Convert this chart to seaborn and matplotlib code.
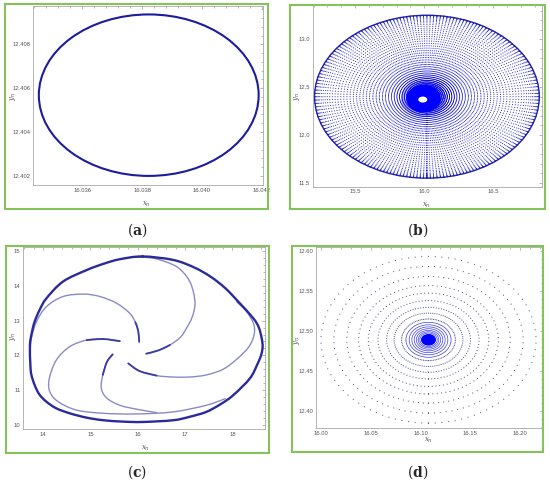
import numpy as np
import pandas as pd
import matplotlib
matplotlib.use("Agg")
import matplotlib.pyplot as plt
from matplotlib.patches import Ellipse, Rectangle, PathPatch
from matplotlib.path import Path
from matplotlib.ticker import MultipleLocator, AutoMinorLocator, FormatStrFormatter
import seaborn as sns

sns.set_style("white")
plt.rcParams["font.family"] = ["Liberation Sans", "DejaVu Sans"]
plt.rcParams["mathtext.fontset"] = "dejavuserif"
plt.rcParams["lines.scale_dashes"] = False

# ---- values ----
# (a) closed invariant curve
a_center = (16.03822, 12.40568)
a_size = (0.00735, 0.00737)

# (b) outward spiral: outer ellipse and ring scales (fraction of outer size)
b_center = (16.02, 12.40)
b_size = (1.625, 1.705)
b_rings = [1.0, 0.996, 0.991, 0.985, 0.977, 0.967, 0.955, 0.941, 0.925, 0.907,
           0.887, 0.865, 0.842, 0.818, 0.793, 0.767, 0.740, 0.712, 0.684, 0.655,
           0.626, 0.597, 0.568, 0.539, 0.510, 0.481, 0.452, 0.424, 0.396, 0.369,
           0.342, 0.316, 0.291, 0.267, 0.244, 0.222, 0.201, 0.181, 0.162, 0.145,
           0.129, 0.114, 0.100]
b_blob = (15.995, 12.38, 0.25, 0.29)
b_hole = (15.99, 12.37, 0.065, 0.063)

# (c) limit cycle and spiral arms
c_outer_x = [16.10, 16.75, 17.20, 17.55, 17.85, 18.12, 18.44, 18.56, 18.62, 18.64, 18.61, 18.53,
             18.37, 18.02, 17.75, 17.45, 17.10, 16.75, 16.10, 15.70, 15.27, 14.90, 14.56, 14.28,
             14.07, 13.92, 13.82, 13.75, 13.73, 13.72, 13.76, 13.82, 13.93, 14.07, 14.42, 14.92,
             15.30, 15.62]
c_outer_y = [14.84, 14.74, 14.52, 14.25, 13.93, 13.55, 13.07, 12.80, 12.49, 12.25, 12.02, 11.75,
             11.34, 10.86, 10.60, 10.38, 10.24, 10.14, 10.09, 10.10, 10.14, 10.22, 10.34, 10.48,
             10.67, 10.88, 11.15, 11.45, 11.72, 12.30, 12.65, 12.97, 13.32, 13.64, 14.12, 14.45,
             14.64, 14.76]
arm1_x = [16.03, 16.01, 15.95, 15.83, 15.55, 15.20, 14.85, 14.42, 14.07, 13.86, 13.75, 13.72]
arm1_y = [12.39, 12.70, 12.95, 13.21, 13.50, 13.69, 13.76, 13.69, 13.40, 12.97, 12.49, 12.01]
arm2_x = [15.62, 15.27, 14.92, 14.56, 14.28, 14.13, 14.14, 14.32, 14.71, 15.27, 15.97, 16.75, 17.45, 17.85]
arm2_y = [12.41, 12.47, 12.44, 12.25, 11.87, 11.34, 10.96, 10.67, 10.43, 10.34, 10.32, 10.38, 10.57, 10.76]
arm3_x = [15.47, 15.35, 15.26, 15.23, 15.35, 15.62, 16.00, 16.40]
arm3_y = [12.03, 11.82, 11.44, 11.05, 10.77, 10.57, 10.45, 10.36]
arm4_x = [15.80, 16.04, 16.40, 16.75, 17.10, 17.45, 17.80, 18.10, 18.35, 18.46, 18.45, 18.30, 18.09]
arm4_y = [11.77, 11.55, 11.42, 11.38, 11.38, 11.44, 11.60, 11.90, 12.25, 12.60, 12.90, 13.26, 13.54]
arm5_x = [16.18, 16.45, 16.68, 16.90, 17.03, 17.15, 17.21, 17.18, 17.10, 16.95, 16.75, 16.33, 15.90]
arm5_y = [12.05, 12.15, 12.30, 12.52, 12.78, 13.10, 13.45, 13.80, 14.12, 14.40, 14.60, 14.79, 14.82]

# (d) inward spiral to a stable point
d_center = (16.108, 12.489)
d_size = (0.216, 0.209)
d_dotted = [1.0, 0.88, 0.76, 0.65, 0.56, 0.47, 0.39, 0.32, 0.25]
d_solid = [0.21, 0.18, 0.155, 0.133, 0.113, 0.096, 0.081]
d_blob = 0.07

W, H = 550, 484
fig = plt.figure(figsize=(5.5, 4.84), dpi=100)


def rect(l, r, t, b):
    return [l / W, 1 - b / H, (r - l) / W, (b - t) / H]


def style(ax, xlim, ylim, xstep, ystep, xfmt, yfmt):
    ax.set_xlim(*xlim)
    ax.set_ylim(*ylim)
    ax.xaxis.set_major_locator(MultipleLocator(xstep))
    ax.yaxis.set_major_locator(MultipleLocator(ystep))
    ax.xaxis.set_minor_locator(AutoMinorLocator(5))
    ax.yaxis.set_minor_locator(AutoMinorLocator(5))
    ax.xaxis.set_major_formatter(FormatStrFormatter(xfmt))
    ax.yaxis.set_major_formatter(FormatStrFormatter(yfmt))
    ax.tick_params(which="both", direction="in", top=True, right=True,
                   colors="#9a9a9a", labelcolor="#555555", labelsize=4.2, width=0.5)
    ax.tick_params(which="major", length=2.5, pad=2)
    ax.tick_params(which="minor", length=1.3)
    for s in ax.spines.values():
        s.set_color("#a8a8a8")
        s.set_linewidth(0.6)
    ax.set_xlabel("")
    ax.set_ylabel("")


def dotted_ring(ax, cx, cy, w, h, n, color, lw, alpha=1.0):
    p0 = ax.transData.transform((cx, cy))
    p1 = ax.transData.transform((cx + w / 2, cy + h / 2))
    a, b = np.abs(p1 - p0) * 72 / fig.dpi
    per = np.pi * (3 * (a + b) - np.sqrt((3 * a + b) * (a + 3 * b)))
    gap = per / n
    ax.add_patch(Ellipse((cx, cy), w, h, fill=False, edgecolor=color, lw=lw,
                         linestyle=(0, (0.01, gap - 0.01)), capstyle="round", alpha=alpha))


def smooth(ax, xs, ys, closed=False, **kw):
    # Catmull-Rom through the read points, drawn as cubic Bezier segments
    P = np.column_stack([xs, ys])
    n = len(P)
    verts, codes = [P[0]], [Path.MOVETO]
    last = n if closed else n - 1
    for i in range(last):
        p1, p2 = P[i], P[(i + 1) % n]
        p0 = P[(i - 1) % n] if (closed or i > 0) else p1
        p3 = P[(i + 2) % n] if (closed or i + 2 < n) else p2
        verts += [p1 + (p2 - p0) / 6, p2 - (p3 - p1) / 6, p2]
        codes += [Path.CURVE4] * 3
    ax.add_patch(PathPatch(Path(verts, codes), fill=False, capstyle="round", joinstyle="round", **kw))


# green frames
for l, r, t, b in [(5, 268, 4, 209), (290, 545, 5, 209), (6, 269, 246, 453), (292, 543, 246, 452)]:
    fig.add_artist(Rectangle((l / W, 1 - b / H), (r - l) / W, (b - t) / H, transform=fig.transFigure,
                             fill=False, edgecolor="#86c25a", lw=1.5))

# (a)
ax = fig.add_axes(rect(33.3, 263.3, 6, 185))
style(ax, (16.03436, 16.04205), (12.40158, 12.40975), 0.002, 0.002, "%.3f", "%.3f")
ax.add_patch(Ellipse(a_center, *a_size, fill=False, edgecolor="#1c1c9e", lw=1.5))

# (b)
ax = fig.add_axes(rect(312.7, 541.7, 5, 186.7))
style(ax, (15.194, 16.85), (11.458, 13.36), 0.5, 0.5, "%.1f", "%.1f")
for s in b_rings:
    dotted_ring(ax, b_center[0], b_center[1], b_size[0] * s, b_size[1] * s, 180, "#1414c8", 0.8)
ax.add_patch(Ellipse(b_center, b_size[0] * b_rings[0], b_size[1] * b_rings[0], fill=False,
                     edgecolor="#1e1ea8", lw=1.0))
ax.add_patch(Ellipse(b_blob[:2], b_blob[2] * 1.3, b_blob[3] * 1.3, color="#2a2aff", alpha=0.35, lw=0))
ax.add_patch(Ellipse(b_blob[:2], b_blob[2], b_blob[3], color="#0000ff", lw=0))
ax.add_patch(Ellipse(b_hole[:2], b_hole[2], b_hole[3], color="white", lw=0))

# (c)
ax = fig.add_axes(rect(23.3, 265, 246.7, 429.3))
sns.lineplot(x=c_outer_x[:1], y=c_outer_y[:1], ax=ax, color="#2a2a9c")
for xs, ys in [(arm1_x, arm1_y), (arm2_x, arm2_y), (arm3_x, arm3_y), (arm4_x, arm4_y), (arm5_x, arm5_y)]:
    smooth(ax, xs, ys, edgecolor="#8a8ac6", lw=1.0)
    smooth(ax, xs[:3], ys[:3], edgecolor="#3a3aa2", lw=1.3)
smooth(ax, c_outer_x, c_outer_y, closed=True, edgecolor="#2a2a9c", lw=1.7)
style(ax, (13.58, 18.69), (9.88, 15.12), 1, 1, "%d", "%d")

# (d)
ax = fig.add_axes(rect(316, 542.7, 247.3, 428.3))
style(ax, (15.995, 16.2227), (12.378, 12.605), 0.05, 0.05, "%.2f", "%.2f")
for s in d_dotted:
    dotted_ring(ax, d_center[0], d_center[1], d_size[0] * s, d_size[1] * s, 90, "#5a5a8e", 0.9)
for s in d_solid:
    ax.add_patch(Ellipse(d_center, d_size[0] * s, d_size[1] * s, fill=False, edgecolor="#3c3cea", lw=0.5))
ax.add_patch(Ellipse(d_center, d_size[0] * d_blob, d_size[1] * d_blob, color="#0000ff", lw=0))

# axis names and panel labels
for x, y in [(146.7, 204), (426.7, 205), (145, 448), (428.3, 440)]:
    fig.text(x / W, 1 - y / H, r"$x_n$", ha="center", va="center", fontsize=5, color="#555555")
for x, y in [(13.3, 96.7), (296.7, 96.7), (13.3, 336.7), (297, 340)]:
    fig.text(x / W, 1 - y / H, r"$y_n$", ha="center", va="center", fontsize=5, color="#555555", rotation=90)
for x, y, t in [(137, 230, "a"), (418, 230, "b"), (137, 472, "c"), (418, 472, "d")]:
    fig.text(x / W, 1 - y / H, r"$(\mathbf{%s})$" % t, ha="center", va="center", fontsize=10)

fig.savefig("out.png", dpi=100)
